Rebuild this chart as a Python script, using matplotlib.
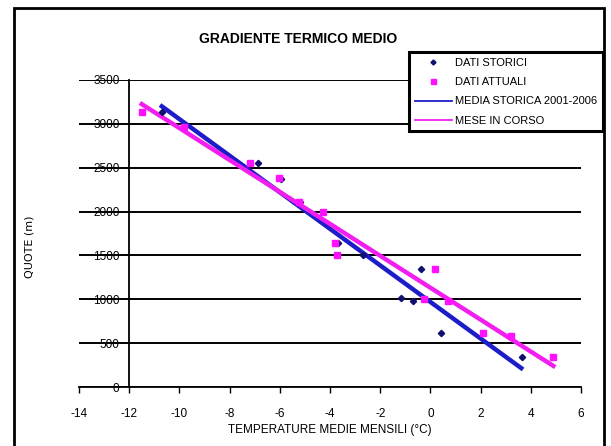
import matplotlib
matplotlib.use("Agg")
import matplotlib.pyplot as plt
from matplotlib.patches import Rectangle

plt.rcParams['font.family'] = ['Liberation Sans', 'DejaVu Sans']

# dati storici (media 2001-2006)
hist_temp = [-10.7, -6.88, -5.95, -5.2, -3.7, -2.67, -0.37, -1.18, -0.68, 0.42, 3.64]
hist_quota = [3130, 2550, 2375, 2105, 1640, 1500, 1350, 1015, 980, 610, 340]

# dati attuali
curr_temp = [-11.5, -9.8, -7.2, -6.02, -5.24, -4.28, -3.79, -3.72, 0.18, -0.25, 0.71, 2.08, 3.2, 4.9]
curr_quota = [3130, 2960, 2550, 2380, 2110, 1990, 1640, 1500, 1350, 1005, 975, 612, 585, 337]

# linee di tendenza (estremi)
hist_trend_temp = [-10.7, 3.62]
hist_trend_quota = [3200, 215]
curr_trend_temp = [-11.5, 4.9]
curr_trend_quota = [3225, 240]

x_ticks = [-14, -12, -10, -8, -6, -4, -2, 0, 2, 4, 6]
y_ticks = [0, 500, 1000, 1500, 2000, 2500, 3000, 3500]

blue = '#1c1cc8'
magenta = '#f21ef0'

W, H = 611, 446
fig = plt.figure(figsize=(W / 100, H / 100), dpi=100)
ax = fig.add_axes([79 / W, 1 - 387 / H, (581 - 79) / W, (387 - 80) / H])

# cornice esterna
fig.patches.append(Rectangle((14 / W, -0.05), (604 - 14) / W, 1.05 - 8 / H,
                             transform=fig.transFigure, fill=False,
                             edgecolor='black', linewidth=2))

ax.plot(hist_trend_temp, hist_trend_quota, color=blue, linewidth=3.2,
        label='MEDIA STORICA 2001-2006', zorder=3)
ax.plot(curr_trend_temp, curr_trend_quota, color=magenta, linewidth=3.2,
        label='MESE IN CORSO', zorder=3)
ax.plot(hist_temp, hist_quota, linestyle='none', marker='D', markersize=3.2,
        color='#10106e', label='DATI STORICI', zorder=4)
ax.plot(curr_temp, curr_quota, linestyle='none', marker='s', markersize=4.5,
        color='#ff10ff', label='DATI ATTUALI', zorder=4)

ax.set_xlim(-14, 6)
ax.set_ylim(0, 3500)
ax.set_xticks(x_ticks)
ax.set_yticks(y_ticks)
ax.set_xticklabels([str(v) for v in x_ticks])

ax.spines['left'].set_position(('data', -12))
ax.spines['right'].set_visible(False)
ax.spines['top'].set_visible(False)
ax.spines['left'].set_linewidth(1.3)
ax.spines['bottom'].set_linewidth(1.3)

ax.yaxis.grid(True, color='black', linewidth=1.4)
ax.set_axisbelow(True)
ax.tick_params(axis='y', length=0, pad=7, labelsize=8.5)
ax.tick_params(axis='x', length=4, width=1, direction='out', pad=11, labelsize=8.5)

ax.set_xlabel('TEMPERATURE MEDIE MENSILI (°C)', fontsize=8.5, labelpad=3)
fig.text(30 / W, 1 - 247 / H, 'QUOTE (m)', rotation=90, ha='center', va='center',
         fontsize=8, family='DejaVu Sans')
fig.text(298 / W, 1 - 39 / H, 'GRADIENTE TERMICO MEDIO', ha='center', va='center',
         fontsize=10, fontweight='bold')

handles, labels = ax.get_legend_handles_labels()
order = [2, 3, 0, 1]
leg = fig.legend([handles[i] for i in order], [labels[i] for i in order],
                 loc='upper left',
                 bbox_to_anchor=(409 / W, 1 - 52 / H - 0.01, (603 - 409) / W, 0.01),
                 mode='expand', borderaxespad=0, fancybox=False, framealpha=1,
                 fontsize=8, handlelength=3.4, handletextpad=0.2, markerscale=0.8,
                 labelspacing=0.85, borderpad=0.5)
leg.get_frame().set_edgecolor('black')
leg.get_frame().set_linewidth(2.2)
for line in leg.get_lines():
    line.set_linewidth(1.3)

fig.savefig('out.png', dpi=100)
